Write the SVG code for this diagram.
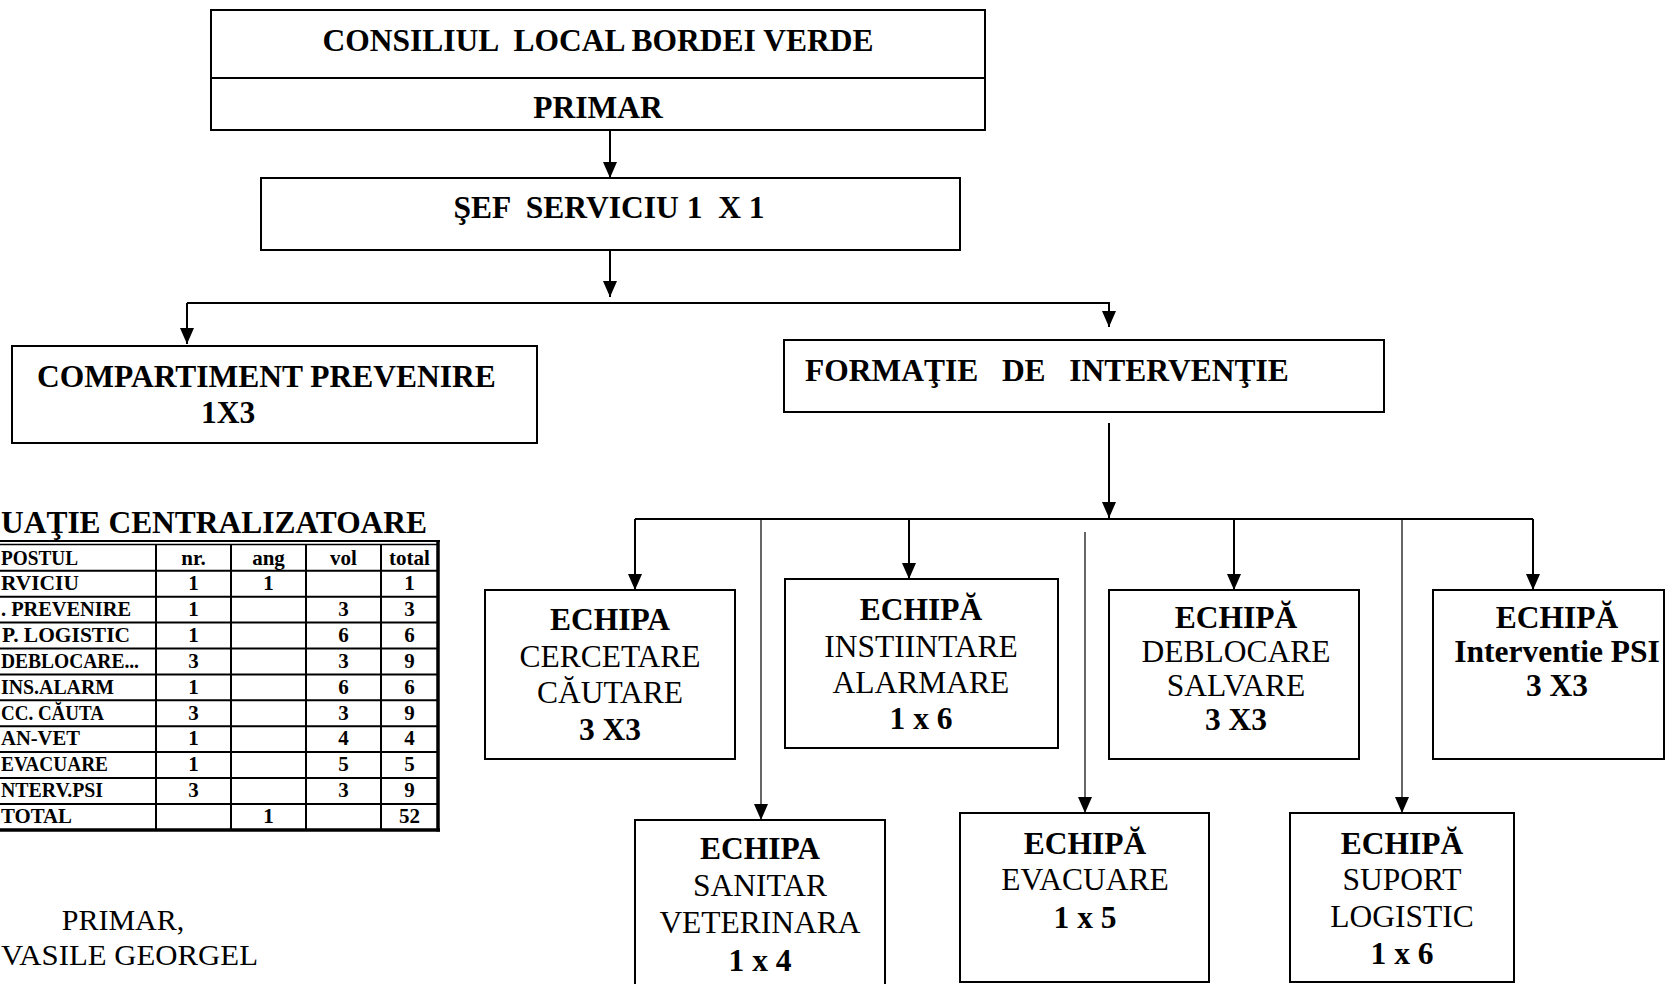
<svg xmlns="http://www.w3.org/2000/svg" width="1666" height="984" viewBox="0 0 1666 984" xml:space="preserve">
<style>
text{font-family:"Liberation Serif","Times New Roman",serif;fill:#000;white-space:pre;font-size:31.5px}
.b{font-weight:bold}
.c{text-anchor:middle}
.e{text-anchor:end}
.box{fill:#fff;stroke:#000;stroke-width:2}
.ln{stroke:#000;stroke-width:2;fill:none}
.thin{stroke:#000;stroke-width:1.2;fill:none}
.t{font-size:21px;font-weight:bold}
.g{stroke:#000;stroke-width:2;fill:none}
.gb{stroke:#000;stroke-width:3.5;fill:none}
.sig{font-size:30px}
</style>
<defs>
<marker id="ah" viewBox="0 0 16 14" refX="16" refY="7" markerWidth="16" markerHeight="14" markerUnits="userSpaceOnUse" orient="auto">
<path d="M0,0 L16,7 L0,14 z" fill="#000"/>
</marker>
</defs>
<rect width="1666" height="984" fill="#fff"/>

<g id="connectors">
<line class="ln" x1="610" y1="130" x2="610" y2="178" marker-end="url(#ah)"/>
<line class="ln" x1="610" y1="250" x2="610" y2="297" marker-end="url(#ah)"/>
<polyline class="ln" points="187,303 1109,303 1109,327" marker-end="url(#ah)"/>
<line class="ln" x1="187" y1="303" x2="187" y2="344" marker-end="url(#ah)"/>
<line class="ln" x1="1109" y1="423" x2="1109" y2="518" marker-end="url(#ah)"/>
<line class="ln" x1="635" y1="519" x2="1533" y2="519"/>
<line class="ln" x1="635" y1="519" x2="635" y2="590" marker-end="url(#ah)"/>
<line class="ln" x1="909" y1="519" x2="909" y2="579" marker-end="url(#ah)"/>
<line class="ln" x1="1234" y1="519" x2="1234" y2="590" marker-end="url(#ah)"/>
<line class="ln" x1="1533" y1="519" x2="1533" y2="590" marker-end="url(#ah)"/>
<line class="thin" x1="761" y1="519" x2="761" y2="820" marker-end="url(#ah)"/>
<line class="thin" x1="1085" y1="532" x2="1085" y2="813" marker-end="url(#ah)"/>
<line class="thin" x1="1402" y1="519" x2="1402" y2="813" marker-end="url(#ah)"/>
</g>

<g id="n-consiliul">
<rect class="box" x="211" y="10" width="774" height="68"/>
<text class="b c" x="598" y="51">CONSILIUL  LOCAL BORDEI VERDE</text>
</g>
<g id="n-primar">
<rect class="box" x="211" y="78" width="774" height="52"/>
<text class="b c" x="598" y="118">PRIMAR</text>
</g>
<g id="n-sef">
<rect class="box" x="261" y="178" width="699" height="72"/>
<text class="b c" x="609" y="218">ŞEF  SERVICIU 1  X 1</text>
</g>
<g id="n-compartiment">
<rect class="box" x="12" y="346" width="525" height="97"/>
<text class="b" x="37" y="387">COMPARTIMENT PREVENIRE</text>
<text class="b" x="201" y="423">1X3</text>
</g>
<g id="n-formatie">
<rect class="box" x="784" y="340" width="600" height="72"/>
<text class="b" x="805" y="381">FORMAŢIE   DE   INTERVENŢIE</text>
</g>

<g id="n-cercetare">
<rect class="box" x="485" y="590" width="250" height="169"/>
<text class="b c" x="610" y="630">ECHIPA</text>
<text class="c" x="610" y="667">CERCETARE</text>
<text class="c" x="610" y="703">CĂUTARE</text>
<text class="b c" x="610" y="740">3 X3</text>
</g>
<g id="n-instiintare">
<rect class="box" x="785" y="579" width="273" height="169"/>
<text class="b c" x="921" y="620">ECHIPĂ</text>
<text class="c" x="921" y="657">INSTIINTARE</text>
<text class="c" x="921" y="693">ALARMARE</text>
<text class="b c" x="921" y="729">1 x 6</text>
</g>
<g id="n-deblocare">
<rect class="box" x="1109" y="590" width="250" height="169"/>
<text class="b c" x="1236" y="628">ECHIPĂ</text>
<text class="c" x="1236" y="662">DEBLOCARE</text>
<text class="c" x="1236" y="696">SALVARE</text>
<text class="b c" x="1236" y="730">3 X3</text>
</g>
<g id="n-psi">
<rect class="box" x="1433" y="590" width="231" height="169"/>
<text class="b c" x="1557" y="628">ECHIPĂ</text>
<text class="b c" x="1557" y="662">Interventie PSI</text>
<text class="b c" x="1557" y="696">3 X3</text>
</g>
<g id="n-sanitar">
<rect class="box" x="635" y="820" width="250" height="175"/>
<text class="b c" x="760" y="859">ECHIPA</text>
<text class="c" x="760" y="896">SANITAR</text>
<text class="c" x="760" y="933">VETERINARA</text>
<text class="b c" x="760" y="971">1 x 4</text>
</g>
<g id="n-evacuare">
<rect class="box" x="960" y="813" width="249" height="169"/>
<text class="b c" x="1085" y="854">ECHIPĂ</text>
<text class="c" x="1085" y="890">EVACUARE</text>
<text class="b c" x="1085" y="928">1 x 5</text>
</g>
<g id="n-suport">
<rect class="box" x="1290" y="813" width="224" height="169"/>
<text class="b c" x="1402" y="854">ECHIPĂ</text>
<text class="c" x="1402" y="890">SUPORT</text>
<text class="c" x="1402" y="927">LOGISTIC</text>
<text class="b c" x="1402" y="964">1 x 6</text>
</g>

<g id="table">
<text class="b" x="1" y="533" style="font-size:31px" textLength="426" lengthAdjust="spacingAndGlyphs">UAŢIE CENTRALIZATOARE</text>
<line class="g" x1="-5" y1="541" x2="440" y2="541"/>
<line class="g" x1="-5" y1="544.5" x2="438" y2="544.5" style="stroke-width:1.5"/>
<path class="g" d="M-5,570.7 H438 M-5,596.7 H438 M-5,622.6 H438 M-5,648.5 H438 M-5,674.4 H438 M-5,700.3 H438 M-5,726.2 H438 M-5,752.1 H438 M-5,778 H438 M-5,803.9 H438"/>
<line class="gb" x1="-5" y1="830" x2="440" y2="830"/>
<path class="g" d="M156,544 V830 M231,544 V830 M306,544 V830 M381,544 V830"/>
<line class="gb" x1="438" y1="540" x2="438" y2="831.5"/>

<text class="t" x="1" y="565" textLength="77" lengthAdjust="spacingAndGlyphs">POSTUL</text>
<text class="t c" x="193.5" y="565">nr.</text>
<text class="t c" x="268.5" y="565">ang</text>
<text class="t c" x="343.5" y="565">vol</text>
<text class="t c" x="409.5" y="565">total</text>

<text class="t" x="1" y="590" textLength="78" lengthAdjust="spacingAndGlyphs">RVICIU</text>
<text class="t c" x="193.5" y="590">1</text>
<text class="t c" x="268.5" y="590">1</text>
<text class="t c" x="409.5" y="590">1</text>

<text class="t" x="1" y="616" textLength="130" lengthAdjust="spacingAndGlyphs">. PREVENIRE</text>
<text class="t c" x="193.5" y="616">1</text>
<text class="t c" x="343.5" y="616">3</text>
<text class="t c" x="409.5" y="616">3</text>

<text class="t" x="2" y="642" textLength="128" lengthAdjust="spacingAndGlyphs">P. LOGISTIC</text>
<text class="t c" x="193.5" y="642">1</text>
<text class="t c" x="343.5" y="642">6</text>
<text class="t c" x="409.5" y="642">6</text>

<text class="t" x="1" y="668" textLength="138" lengthAdjust="spacingAndGlyphs">DEBLOCARE...</text>
<text class="t c" x="193.5" y="668">3</text>
<text class="t c" x="343.5" y="668">3</text>
<text class="t c" x="409.5" y="668">9</text>

<text class="t" x="1" y="694" textLength="113" lengthAdjust="spacingAndGlyphs">INS.ALARM</text>
<text class="t c" x="193.5" y="694">1</text>
<text class="t c" x="343.5" y="694">6</text>
<text class="t c" x="409.5" y="694">6</text>

<text class="t" x="1" y="720" textLength="103" lengthAdjust="spacingAndGlyphs">CC. CĂUTA</text>
<text class="t c" x="193.5" y="720">3</text>
<text class="t c" x="343.5" y="720">3</text>
<text class="t c" x="409.5" y="720">9</text>

<text class="t" x="1" y="745" textLength="79" lengthAdjust="spacingAndGlyphs">AN-VET</text>
<text class="t c" x="193.5" y="745">1</text>
<text class="t c" x="343.5" y="745">4</text>
<text class="t c" x="409.5" y="745">4</text>

<text class="t" x="1" y="771" textLength="107" lengthAdjust="spacingAndGlyphs">EVACUARE</text>
<text class="t c" x="193.5" y="771">1</text>
<text class="t c" x="343.5" y="771">5</text>
<text class="t c" x="409.5" y="771">5</text>

<text class="t" x="1" y="797" textLength="102" lengthAdjust="spacingAndGlyphs">NTERV.PSI</text>
<text class="t c" x="193.5" y="797">3</text>
<text class="t c" x="343.5" y="797">3</text>
<text class="t c" x="409.5" y="797">9</text>

<text class="t" x="1" y="823" textLength="71" lengthAdjust="spacingAndGlyphs">TOTAL</text>
<text class="t c" x="268.5" y="823">1</text>
<text class="t c" x="409.5" y="823">52</text>
</g>

<g id="signature">
<text class="sig c" x="123" y="930">PRIMAR,</text>
<text class="sig" x="1" y="965" textLength="257" lengthAdjust="spacingAndGlyphs">VASILE GEORGEL</text>
</g>
</svg>
